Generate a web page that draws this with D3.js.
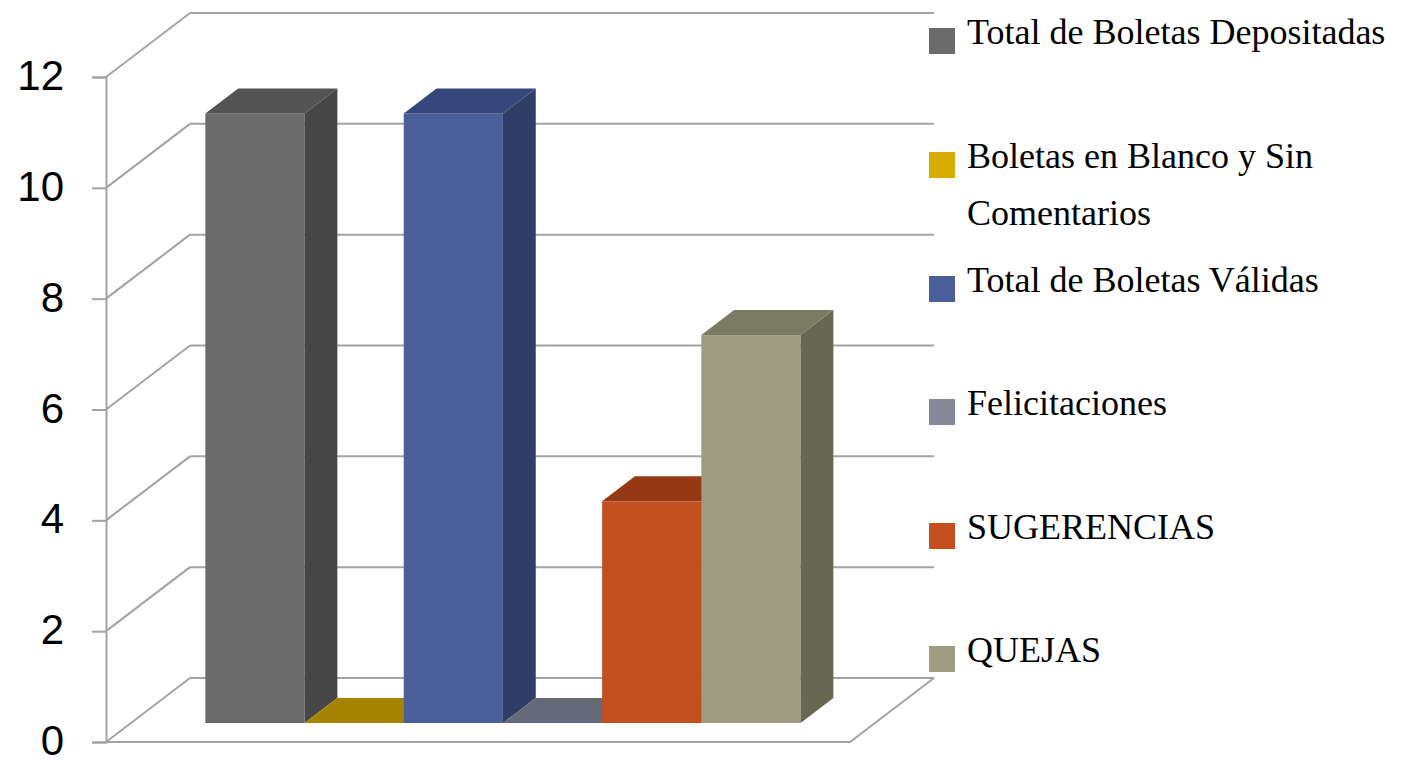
<!DOCTYPE html>
<html>
<head>
<meta charset="utf-8">
<script src="https://cdn.jsdelivr.net/npm/d3@7"></script>
<style>
  body { margin: 0; background: #fff; }
  svg { display: block; }
</style>
</head>
<body>
<svg width="1401" height="760"></svg>
<script>
// data
var categories = ["Total de Boletas Depositadas", "Boletas en Blanco y Sin Comentarios",
                  "Total de Boletas Válidas", "Felicitaciones", "SUGERENCIAS", "QUEJAS"];
var values = [11, 0, 11, 0, 4, 7];
var yTicks = [0, 2, 4, 6, 8, 10, 12];

// front / top / side shades per series
var fronts = ["#6b6b6b", "#d9ac00", "#4a5f9a", "#868898", "#c44f1e", "#9e9c81"];
var tops   = ["#535353", "#a68400", "#35477a", "#666a78", "#953816", "#7b7a62"];
var sides  = ["#464646", "#7d6300", "#2f3e67", "#555866", "#7f2f12", "#686751"];

var svg = d3.select("svg");

// 3d geometry: wall depth and bar depth (as fractions of it)
var DX = 84, DY = -64,
    f1 = 19 / 64, f2 = 44 / 64;

var y = d3.scaleLinear().domain([0, 12]).range([742, 77]);
var x = d3.scaleBand().domain(categories).range([106, 850]).paddingInner(0).paddingOuter(0.75);

var grid = svg.append("g")
    .attr("stroke", "#a3a3a3")
    .attr("stroke-width", 2)
    .attr("fill", "none");

// back wall horizontals + side wall diagonals
yTicks.forEach(function(t) {
  grid.append("line")
      .attr("x1", 106 + DX).attr("x2", 850 + DX)
      .attr("y1", y(t) + DY).attr("y2", y(t) + DY);
  grid.append("line")
      .attr("x1", 106).attr("x2", 106 + DX)
      .attr("y1", y(t)).attr("y2", y(t) + DY);
});

// floor front edge and right edge
grid.append("polyline")
    .attr("points", [[106, y(0)], [850, y(0)], [850 + DX, y(0) + DY]].join(" "));

// front value axis
var axis = svg.append("g")
    .attr("transform", "translate(106,0)")
    .call(d3.axisLeft(y).tickValues(yTicks).tickSize(14).tickPadding(28));
axis.select(".domain").attr("stroke", "#a3a3a3").attr("stroke-width", 2);
axis.selectAll(".tick line").attr("stroke", "#a3a3a3").attr("stroke-width", 2);
axis.selectAll(".tick text")
    .attr("fill", "#000")
    .attr("dy", "0.3em")
    .style("font-family", "'Liberation Sans', Arial, sans-serif")
    .style("font-size", "42px");

// bars
var bars = svg.append("g");
categories.forEach(function(c, i) {
  var v = values[i];
  var x0 = x(c) + DX * f1, x1 = x0 + x.bandwidth();
  var yb = y(0) + DY * f1, yt = y(v) + DY * f1;
  var ox = DX * (f2 - f1), oy = DY * (f2 - f1);
  var g = bars.append("g");
  if (v > 0) {
    g.append("rect")
        .attr("x", x0).attr("y", yt)
        .attr("width", x1 - x0).attr("height", yb - yt)
        .attr("fill", fronts[i]);
    g.append("polygon")
        .attr("points", [[x1, yb], [x1, yt], [x1 + ox, yt + oy], [x1 + ox, yb + oy]].join(" "))
        .attr("fill", sides[i]);
  }
  g.append("polygon")
      .attr("points", [[x0, yt], [x1, yt], [x1 + ox, yt + oy], [x0 + ox, yt + oy]].join(" "))
      .attr("fill", tops[i]);
});

// legend
var legendY = [44, 168, 292, 415, 539, 662];
var legend = svg.append("g")
    .style("font-family", "'Liberation Serif', 'Times New Roman', serif")
    .style("font-size", "36px");
categories.forEach(function(c, i) {
  var g = legend.append("g").attr("transform", "translate(929," + legendY[i] + ")");
  g.append("rect")
      .attr("x", 0).attr("y", -16)
      .attr("width", 26).attr("height", 26)
      .attr("fill", fronts[i]);
  var lines = c === "Boletas en Blanco y Sin Comentarios"
      ? ["Boletas en Blanco y Sin", "Comentarios"] : [c];
  lines.forEach(function(l, j) {
    g.append("text")
        .attr("x", 38).attr("y", j * 57)
        .attr("fill", "#000")
        .text(l);
  });
});
</script>
</body>
</html>
